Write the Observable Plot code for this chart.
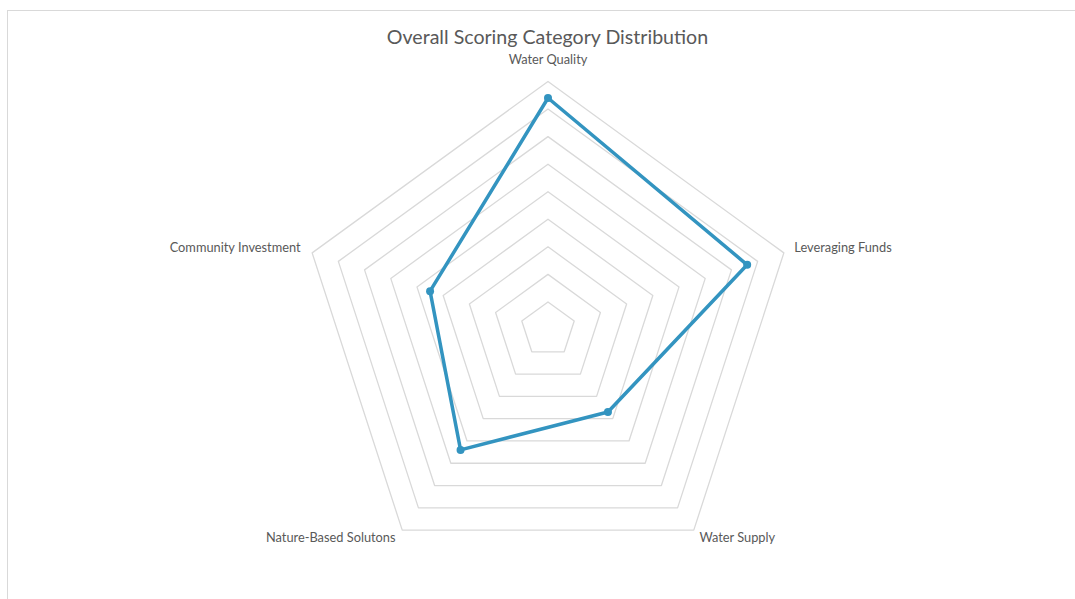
<!DOCTYPE html>
<html><head><meta charset="utf-8">
<script src="https://cdn.jsdelivr.net/npm/d3@7"></script>
<script src="https://cdn.jsdelivr.net/npm/@observablehq/plot@0.6"></script>
<style>
html,body{margin:0;padding:0;background:#fff;width:1075px;height:599px;overflow:hidden;font-family:Lato,"Liberation Sans",sans-serif;}
#frame{position:absolute;left:7px;top:10px;width:1200px;height:700px;border-top:1px solid #d9d9d9;border-left:1px solid #d9d9d9;}
#title{position:absolute;left:0;width:1095px;top:25px;text-align:center;font-size:19.6px;color:#595959;line-height:24px;}
#chart{position:absolute;left:0;top:50px;}
</style></head><body>
<div id="frame"></div>
<div id="title">Overall Scoring Category Distribution</div>
<div id="chart"></div>
<script>
const categories = ["Water Quality", "Leveraging Funds", "Water Supply", "Nature-Based Solutons", "Community Investment"];
const scores = [84, 76, 37, 54, 45];
const ringValues = [10, 20, 30, 40, 50, 60, 70, 80, 90];
const axisMax = 90;

const n = categories.length;
const ang = i => i * 2 * Math.PI / n;
const px = (r, i) => r * Math.sin(ang(i));
const py = (r, i) => r * Math.cos(ang(i));

const ringRows = ringValues.flatMap(r => categories.map((c, i) => ({r, i})));
const points = categories.map((c, i) => ({c, i, v: scores[i]}));

const labelMarks = categories.map((c, i) => {
  const s = Math.sin(ang(i)), co = Math.cos(ang(i));
  let anchor = "middle", dx = 0, dy = -22;
  if (Math.abs(s) > 0.1) {
    anchor = s > 0 ? "start" : "end";
    if (co > 0) { dx = s > 0 ? 10.5 : -11.5; dy = -4.5; }
    else { dx = s > 0 ? 5.7 : -6.7; dy = 7.5; }
  }
  return Plot.text([c], {
    x: () => px(axisMax, i), y: () => py(axisMax, i), text: d => d,
    textAnchor: anchor, dx, dy, fill: "#595959", fontSize: 12.8,
    fontFamily: "Lato, 'Liberation Sans', sans-serif"
  });
});

const color = "#3394c0";
const chart = Plot.plot({
  width: 1075, height: 549, margin: 0,
  x: {domain: [-axisMax, axisMax], range: [299.5, 795.5], axis: null},
  y: {domain: [-axisMax, axisMax], range: [527, 31], axis: null},
  marks: [
    Plot.line(ringRows, {x: d => px(d.r, d.i), y: d => py(d.r, d.i), z: "r", curve: "linear-closed", stroke: "#d9d9d9", strokeWidth: 1.3}),
    Plot.line(points, {x: d => px(d.v, d.i), y: d => py(d.v, d.i), curve: "linear-closed", stroke: color, strokeWidth: 3.5, strokeLinejoin: "round"}),
    Plot.dot(points, {x: d => px(d.v, d.i), y: d => py(d.v, d.i), r: 4, fill: color, stroke: "none"}),
    ...labelMarks
  ]
});
document.getElementById("chart").appendChild(chart);
</script>
</body></html>
